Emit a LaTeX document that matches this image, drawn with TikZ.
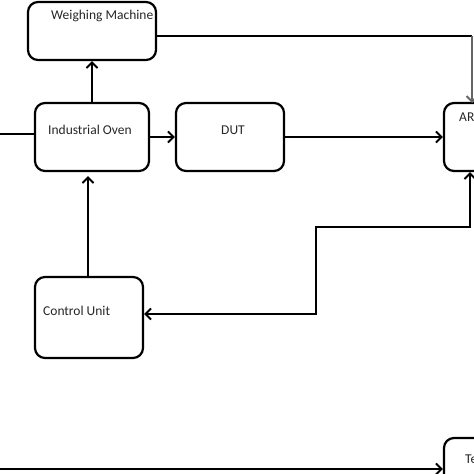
\documentclass[tikz,border=0pt]{standalone}
\usepackage{fontspec}
\setmainfont{Carlito}
\usetikzlibrary{positioning, arrows.meta, calc}

\begin{document}
\begin{tikzpicture}[x=1pt, y=-1pt,
	block/.style={draw, line width=2.2pt, rounded corners=10pt, inner sep=0pt},
	lbl/.style={font=\fontsize{13.5}{15}\selectfont, anchor=west, inner sep=0pt, black!85},
	link/.style={line width=2.2pt},
	tip/.tip={Straight Barb[length=5.5pt, width=11pt, line width=2pt]},
	arr/.style={line width=2.2pt, -tip}]
	\useasboundingbox (0,0) rectangle (474,474);
	% blocks
	\node[block, minimum width=128pt, minimum height=58pt] (wm) at (92,31) {};
	\node[block, minimum width=114pt, minimum height=68pt] (oven) at (92,137) {};
	\node[block, minimum width=108pt, minimum height=68pt] (dut) at (230,137) {};
	\node[block, minimum width=100pt, minimum height=68pt] (ar) at (494,137) {};
	\node[block, minimum width=108pt, minimum height=81pt] (cu) at (89,317.5) {};
	\node[block, minimum width=100pt, minimum height=68pt] (te) at (494,472) {};
	% texts
	\node[lbl] (wmtxt) at (51,16) {Weighing Machine};
	\node[lbl] (oventxt) at (48,130) {Industrial Oven};
	\node[lbl, anchor=center] (duttxt) at (233,130) {DUT};
	\node[lbl] (artxt) at (459,117) {AR};
	\node[lbl] (cutxt) at (43,311) {Control Unit};
	\node[lbl] (tetxt) at (465,459) {Te};
	% connectors
	\coordinate (in1) at (0,134);
	\coordinate (in2) at (0,469);
	\coordinate (wmout) at (156,36);
	\coordinate (arin) at (472,103);
	\coordinate (s1) at (470,227);
	\coordinate (s2) at (316,227);
	\coordinate (s3) at (316,314);
	\draw[link] (in1) -- (in1 -| oven.west);
	\draw[arr] (oven.north) -- (wm.south);
	\draw[arr] ($(cu.north)+(-1,0)$) -- ($(oven.south)+(-4,4)$);
	\draw[arr] (oven.east) -- (dut.west);
	\draw[arr] (dut.east) -- (dut.east -| ar.west);
	\draw[link] (wmout) -- (wmout -| arin);
	\draw[arr, line width=1.4pt, black!60] (wmout -| arin) -- (arin);
	\draw[link, tip-tip] (s3 -| cu.east) -- (s3) -- (s2) -- (s1) -- (s1 |- ar.south);
	\draw[arr] (in2) -- (in2 -| te.west);
\end{tikzpicture}
\end{document}
